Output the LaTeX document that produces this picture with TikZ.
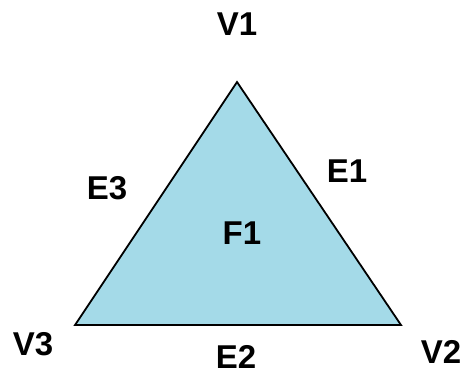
\documentclass[tikz,border=0pt]{standalone}
\usepackage{fontspec}
\setmainfont{Liberation Sans}
\definecolor{facefill}{RGB}{164,218,232}
\begin{document}
\begin{tikzpicture}[x=1pt,y=-1pt,
  lbl/.style={font=\fontsize{33}{36}\selectfont\bfseries, inner sep=0pt, text=black}]
\useasboundingbox (0,0) rectangle (465,376);
\coordinate (v1) at (237,82);
\coordinate (v2) at (401,325);
\coordinate (v3) at (75,325);
\filldraw[fill=facefill, draw=black, line width=1.8pt, line join=miter] (v1) -- (v2) -- (v3) -- cycle;
\node[lbl] (V1) at (237,24) {V1};
\node[lbl] (V2) at (441,352) {V2};
\node[lbl] (V3) at (33,344) {V3};
\node[lbl] (E1) at (347,171) {E1};
\node[lbl] (E2) at (236,357) {E2};
\node[lbl] (E3) at (107,188) {E3};
\node[lbl] (F1) at (242,233) {F1};
\end{tikzpicture}
\end{document}
